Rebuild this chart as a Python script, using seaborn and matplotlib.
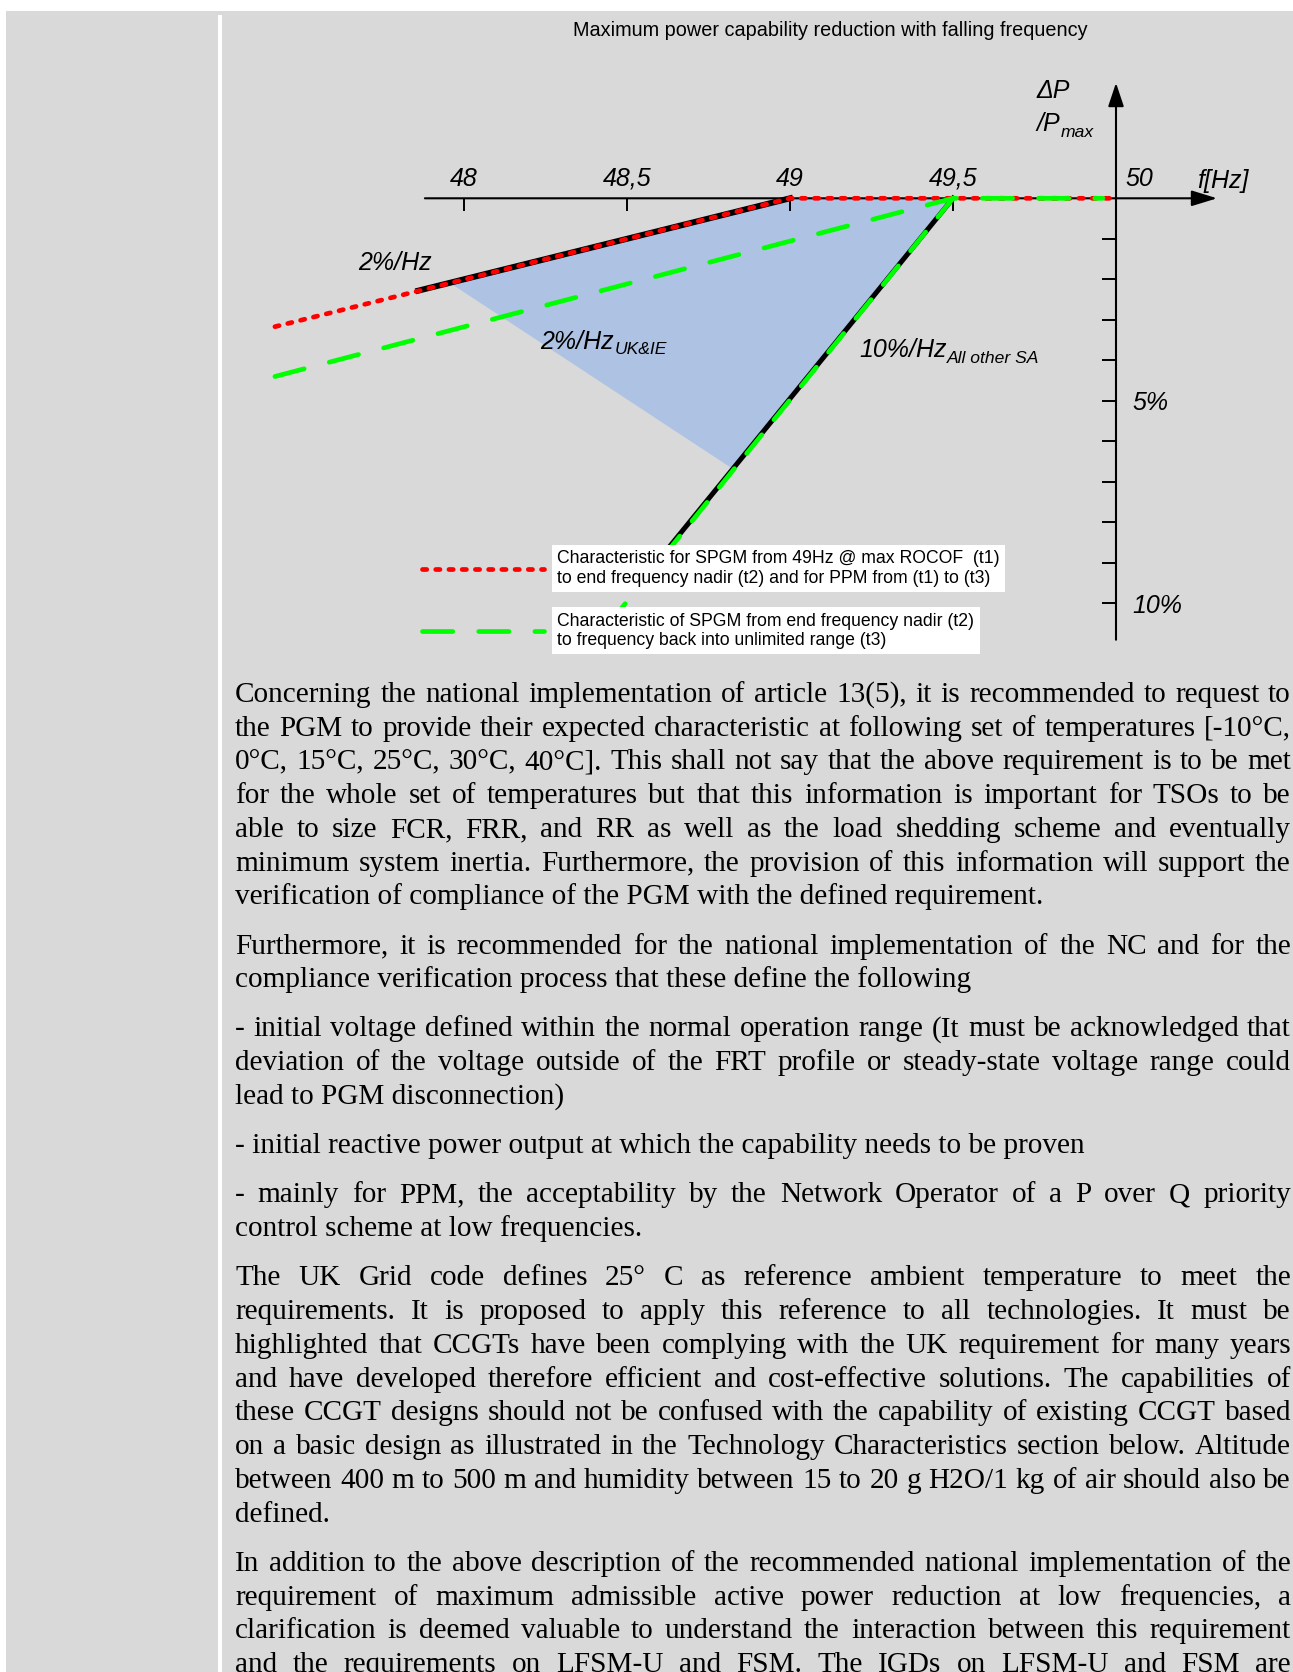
import matplotlib
matplotlib.use('Agg')
import matplotlib.pyplot as plt
import seaborn as sns
import numpy as np
import pandas as pd
from matplotlib.patches import Rectangle
from matplotlib.lines import Line2D
from matplotlib.font_manager import FontProperties

W, H, DPI = 1293, 1672, 100
GRAY = '#d9d9d9'
BLUE = '#aec3e3'
RED = '#ff0000'
GREEN = '#00ff00'

# --- chart data: frequency [Hz] vs dP/Pmax [%] ---
red_f = [47.42, 49.0, 49.98]
red_p = [-3.17, 0.0, 0.0]
black_f = [47.86, 49.0]
black_p = [-2.28, 0.0]
steep_black_f = [49.5, 48.57]
steep_black_p = [0.0, -9.2]
green_f = [47.42, 49.5, 49.96]
green_p = [-4.40, 0.0, 0.0]
steep_green_f = [49.5, 48.40]
steep_green_p = [0.0, -10.95]
fill_f = [47.957, 49.0, 49.5, 48.826]
fill_p = [-2.09, 0.0, 0.0, -6.69]

freq_ticks = [48, 48.5, 49, 49.5, 50]
freq_labels = ['48', '48,5', '49', '49,5', '50']
pct_ticks = [-1, -2, -3, -4, -5, -6, -7, -8, -9, -10]
pct_labels = ['', '', '', '', '5%', '', '', '', '', '10%']

title = 'Maximum power capability reduction with falling frequency'
legend_labels = ['Characteristic for SPGM from 49Hz @ max ROCOF  (t1)\nto end frequency nadir (t2) and for PPM from (t1) to (t3)',
                 'Characteristic of SPGM from end frequency nadir (t2)\nto frequency back into unlimited range (t3)']

paragraphs = [
    ["Concerning the national implementation of article 13(5), it is recommended to request to",
     "the PGM to provide their expected characteristic at following set of temperatures [-10°C,",
     "0°C, 15°C, 25°C, 30°C, 40°C]. This shall not say that the above requirement is to be met",
     "for the whole set of temperatures but that this information is important for TSOs to be",
     "able to size FCR, FRR, and RR as well as the load shedding scheme and eventually",
     "minimum system inertia. Furthermore, the provision of this information will support the",
     "verification of compliance of the PGM with the defined requirement."],
    ["Furthermore, it is recommended for the national implementation of the NC and for the",
     "compliance verification process that these define the following"],
    ["- initial voltage defined within the normal operation range (It must be acknowledged that",
     "deviation of the voltage outside of the FRT profile or steady-state voltage range could",
     "lead to PGM disconnection)"],
    ["- initial reactive power output at which the capability needs to be proven"],
    ["- mainly for PPM, the acceptability by the Network Operator of a P over Q priority",
     "control scheme at low frequencies."],
    ["The UK Grid code defines 25° C as reference ambient temperature to meet the",
     "requirements. It is proposed to apply this reference to all technologies. It must be",
     "highlighted that CCGTs have been complying with the UK requirement for many years",
     "and have developed therefore efficient and cost-effective solutions. The capabilities of",
     "these CCGT designs should not be confused with the capability of existing CCGT based",
     "on a basic design as illustrated in the Technology Characteristics section below. Altitude",
     "between 400 m to 500 m and humidity between 15 to 20 g H2O/1 kg of air should also be",
     "defined."],
    ["In addition to the above description of the recommended national implementation of the",
     "requirement of maximum admissible active power reduction at low frequencies, a",
     "clarification is deemed valuable to understand the interaction between this requirement",
     "and the requirements on LFSM-U and FSM. The IGDs on LFSM-U and FSM are"],
]
last_line_justified = [False, False, False, False, False, False, True]

plt.rcParams['font.family'] = ['Liberation Sans', 'DejaVu Sans']

fig = plt.figure(figsize=(W / DPI, H / DPI), dpi=DPI, facecolor='white')

# page background
fig.add_artist(Rectangle((6 / W, 0), (W - 6) / W, 1 - 11 / H, transform=fig.transFigure,
                         facecolor=GRAY, edgecolor='none', zorder=-2))
fig.add_artist(Rectangle((218 / W, 0), 4 / W, 1 - 15 / H, transform=fig.transFigure,
                         facecolor='white', edgecolor='none', zorder=-1))

# axes placed so that 50 Hz / 0 % sits at pixel (1116, 198)
X0, Y0, PX_HZ, PX_PCT = 1116, 198.3, 326, 40.5
xlim = (47.2, 50.5)
ylim = (-12.5, 4.0)
left = X0 - (50 - xlim[0]) * PX_HZ
top = Y0 - ylim[1] * PX_PCT
ax = fig.add_axes([left / W, 1 - (top + (ylim[1] - ylim[0]) * PX_PCT) / H,
                   (xlim[1] - xlim[0]) * PX_HZ / W, (ylim[1] - ylim[0]) * PX_PCT / H])
ax.set_facecolor('none')

ax.fill(fill_f, fill_p, color=BLUE, lw=0, zorder=1)

# axes with arrows
ax.annotate('', xy=(50.31, 0), xytext=(47.88, 0),
            arrowprops=dict(arrowstyle='-|>,head_length=0.78,head_width=0.24', lw=1.5,
                            color='black', shrinkA=0, shrinkB=0, mutation_scale=20), zorder=2)
ax.annotate('', xy=(50, 2.85), xytext=(50, -10.9),
            arrowprops=dict(arrowstyle='-|>,head_length=0.72,head_width=0.24', lw=1.5,
                            color='black', shrinkA=0, shrinkB=0, mutation_scale=20), zorder=2)

red_ls = (0, (0.9, 1.9))
green_ls = (0, (6.4, 5.5))
steep_ls = (0, (5.1, 4.1))

sns.lineplot(x=black_f, y=black_p, ax=ax, color='black', lw=4.3, sort=False,
             errorbar=None, legend=False, zorder=3)
sns.lineplot(x=steep_black_f, y=steep_black_p, ax=ax, color='black', lw=3.6, sort=False,
             errorbar=None, legend=False, zorder=3)
sns.lineplot(x=red_f, y=red_p, ax=ax, color=RED, lw=3.4, linestyle=red_ls,
             dash_capstyle='round', sort=False, errorbar=None, legend=False, zorder=4)
sns.lineplot(x=green_f, y=green_p, ax=ax, color=GREEN, lw=3.4, linestyle=green_ls,
             dash_capstyle='round', sort=False, errorbar=None, legend=False, zorder=5)
sns.lineplot(x=steep_green_f, y=steep_green_p, ax=ax, color=GREEN, lw=3.4, linestyle=steep_ls,
             dash_capstyle='round', sort=False, errorbar=None, legend=False, zorder=5)

ax.set_xlim(*xlim)
ax.set_ylim(*ylim)
for s in ax.spines.values():
    s.set_visible(False)
ax.spines['top'].set_position(('data', 0))
ax.spines['right'].set_position(('data', 50))
ax.set_xlabel('')
ax.set_ylabel('')

ax.set_xticks(freq_ticks)
ax.xaxis.set_ticks_position('top')
ax.tick_params(axis='x', direction='in', length=9, width=1.4, labeltop=False, labelbottom=False)
for f, lab in zip(freq_ticks, freq_labels):
    if f == 50:
        ax.annotate(lab, xy=(f, 0), xytext=(6.5, 9), textcoords='offset points',
                    ha='left', va='baseline', fontsize=18, fontstyle='italic')
    else:
        ax.annotate(lab, xy=(f, 0), xytext=(0, 9), textcoords='offset points',
                    ha='center', va='baseline', fontsize=18, fontstyle='italic')

ax.set_yticks(pct_ticks)
ax.yaxis.set_ticks_position('right')
ax.set_yticklabels(pct_labels, fontsize=18, fontstyle='italic')
ax.tick_params(axis='y', direction='in', length=10, width=1.4, labelright=True,
               labelleft=False, pad=12)


def sub_label(x, y, main, sub):
    t = ax.text(x, y, main, fontsize=18, fontstyle='italic', ha='left', va='baseline')
    ax.annotate(sub, xy=(1, 0), xycoords=t, xytext=(0.5, -2.5), textcoords='offset points',
                fontsize=12.6, fontstyle='italic', ha='left', va='bottom')


# chart annotations
ax.text(47.675, -1.60, '2%/Hz', fontsize=18, fontstyle='italic', ha='left', va='center')
sub_label(48.233, -3.72, '2%/Hz', 'UK&IE')
sub_label(49.212, -3.92, '10%/Hz', 'All other SA')
ax.text(49.755, 2.65, 'ΔP', fontsize=18, fontstyle='italic', ha='left', va='center')
sub_label(49.755, 1.65, '/P', 'max')
ax.text(50.248, 0.43, 'f[Hz]', fontsize=18, fontstyle='italic', ha='left', va='center')

fig.text(830 / W, 1 - 31 / H, title, ha='center', va='center', fontsize=14.3)

# legend with white label boxes
handles = [Line2D([], [], color=RED, lw=3.4, linestyle=red_ls, dash_capstyle='round'),
           Line2D([], [], color=GREEN, lw=3.4, linestyle=green_ls, dash_capstyle='round')]
leg = ax.legend(handles, legend_labels, loc='upper left', bbox_to_anchor=(421.7 / W, 1 - 550.4 / H),
                bbox_transform=fig.transFigure, frameon=False, fontsize=12.7,
                handlelength=6.95, handletextpad=0.74, labelspacing=1.45,
                borderpad=0, borderaxespad=0)
for t in leg.get_texts():
    t.set_linespacing(1.2)
    t.set_bbox(dict(boxstyle='square,pad=0.3', facecolor='white', edgecolor='none'))
leg.set_zorder(10)

# body text, justified
renderer = fig.canvas.get_renderer()


def text_width(s, prop):
    w, h, d = renderer.get_text_width_height_descent(s, prop, ismath=False)
    return w


body_prop = FontProperties(family='Liberation Serif', size=20)
ref_w = text_width(paragraphs[0][-1], body_prop)
body_prop = FontProperties(family='Liberation Serif', size=20 * 808.5 / ref_w)

TX0, TX1 = 235.0, 1291.0
base = 701.7
for para, just_last in zip(paragraphs, last_line_justified):
    for i, line in enumerate(para):
        justify = (i < len(para) - 1) or just_last
        if justify:
            words = line.split(' ')
            widths = [text_width(w_, body_prop) for w_ in words]
            gap = (TX1 - TX0 - sum(widths)) / (len(words) - 1)
            x = TX0
            for w_, ww in zip(words, widths):
                fig.text(x / W, 1 - base / H, w_, fontproperties=body_prop, ha='left', va='baseline')
                x += ww + gap
        else:
            fig.text(TX0 / W, 1 - base / H, line, fontproperties=body_prop, ha='left', va='baseline')
        base += 33.8
    base += 15.3

fig.savefig('out.png', dpi=DPI, facecolor='white')
